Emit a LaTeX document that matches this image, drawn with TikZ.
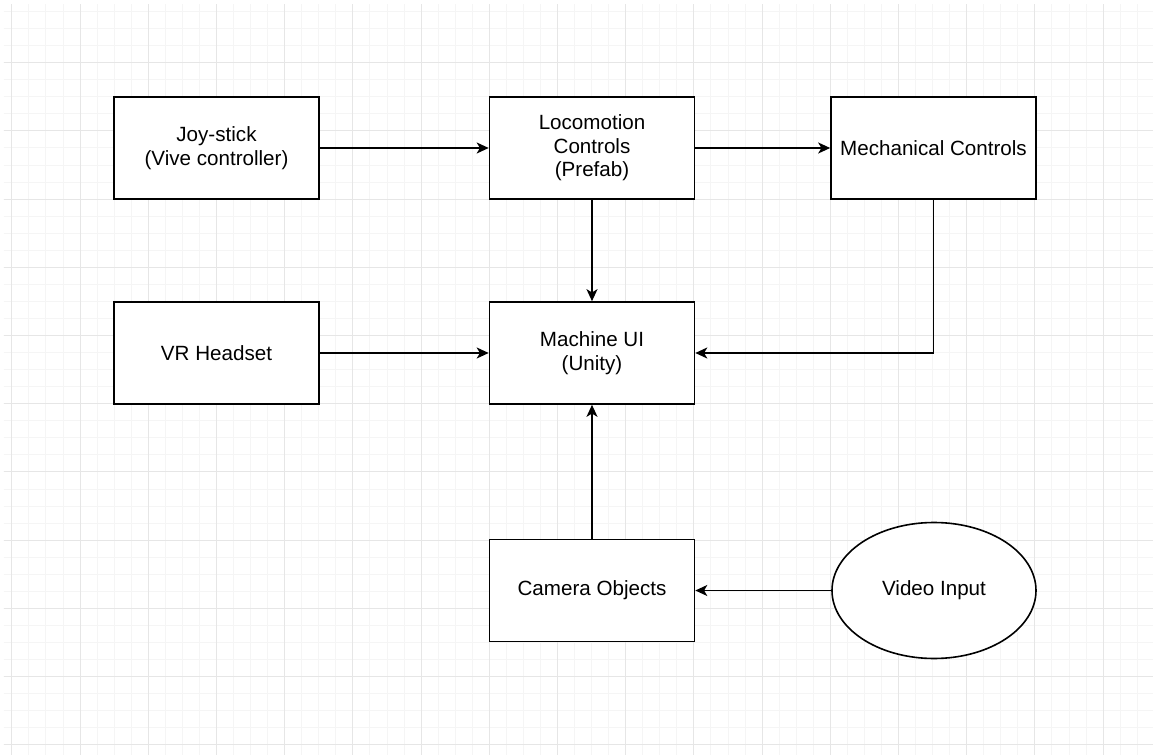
\documentclass[tikz,border=0pt]{standalone}
\usepackage{fontspec}
\setmainfont{Liberation Sans}
\usepackage[dvipsnames]{xcolor}
\usetikzlibrary{arrows.meta,shapes.geometric}
\definecolor{gridmajor}{HTML}{E6E6E6}
\definecolor{gridminor}{HTML}{F5F5F5}

\begin{document}
\begin{tikzpicture}[->,>={Stealth[length=6pt,width=5.5pt,inset=1.6pt]},auto,node distance=187.75pt,thick,
  main node/.style={rectangle,draw,fill=white,minimum width=102.5pt,minimum height=51pt,align=center,inner sep=2pt,font=\fontsize{10.3}{11.75}\selectfont},
  round node/.style={ellipse,draw,fill=white,minimum width=102pt,minimum height=68pt,inner sep=0pt,font=\fontsize{10.3}{11.75}\selectfont}]

            \useasboundingbox (-108.25pt,-303.5pt) rectangle (468.25pt,74pt);
            % background grid
            \begin{scope}[yshift=8.525pt,-]
                \clip (-106.25pt,-312.025pt) rectangle (468.25pt,62.975pt);
                \draw[gridminor,line width=0.5pt,step=8.525pt] (-110pt,-320pt) grid (470pt,70pt);
                \draw[gridmajor,line width=0.5pt,step=34.1pt] (-110pt,-320pt) grid (470pt,70pt);
            \end{scope}

            \node[main node] (1) []{Joy-stick\\(Vive controller)};
            \node[main node] (2) [right of = 1]{Locomotion\\Controls\\(Prefab)};
            \node[main node] (3) [right of = 2, node distance=170.75pt]{Mechanical Controls};
            \node[main node] (4) [below of = 1, node distance=102.5pt]{VR Headset};
            \node[main node] (5) [below of = 2, node distance=102.5pt]{Machine UI\\(Unity)};
            \node[main node] (6) [below of = 5, node distance=118.75pt]{Camera Objects};
            \node[round node] (7) [right of = 6, node distance=171pt]{Video Input};

            \draw[->] (1) to (2);
            \draw[->] (2) to (3);
            \draw[->] (2) to (5);
            \draw[->] (4) to (5);
            \draw[->] (3) |- (5);
            \draw[->] (6) to (5);
            \draw[->] (7) to (6);

\end{tikzpicture}
\end{document}
